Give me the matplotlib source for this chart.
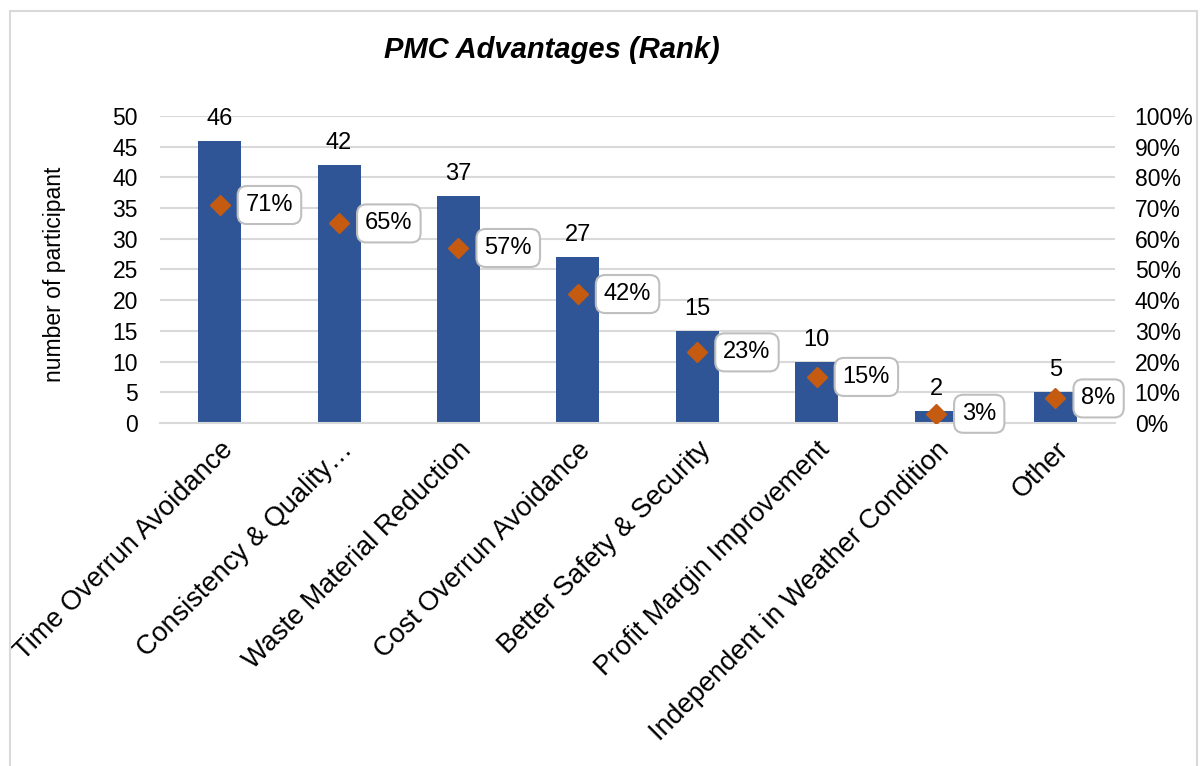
import matplotlib.pyplot as plt
from matplotlib.patches import Rectangle
from matplotlib.ticker import PercentFormatter

plt.rcParams["font.family"] = ["Liberation Sans", "DejaVu Sans"]

categories = [
    "Time Overrun Avoidance",
    "Consistency & Quality…",
    "Waste Material Reduction",
    "Cost Overrun Avoidance",
    "Better Safety & Security",
    "Profit Margin Improvement",
    "Independent in Weather Condition",
    "Other",
]
counts = [46, 42, 37, 27, 15, 10, 2, 5]
percents = [71, 65, 57, 42, 23, 15, 3, 8]

bar_color = "#2F5597"
marker_color = "#C55A11"
grid_color = "#D9D9D9"
fs = 16.5

fig = plt.figure(figsize=(12.03, 7.66), dpi=100)
ax = fig.add_axes([0.133, 0.4478, 0.794, 0.4008])
ax2 = ax.twinx()

x = list(range(len(categories)))
ax.bar(x, counts, width=0.36, color=bar_color, zorder=2)
for xi, c in zip(x, counts):
    ax.annotate(str(c), (xi, c), xytext=(0, 11), textcoords="offset pixels",
                ha="center", va="bottom", fontsize=fs + 0.5, color="#000000")

ax.set_xlim(-0.5, len(categories) - 0.5)
ax.set_ylim(0, 50)
ax.set_yticks(range(0, 51, 5))
ax.yaxis.grid(True, color=grid_color, linewidth=1.5, zorder=0)
ax.set_axisbelow(True)
for side in ["top", "right", "left"]:
    ax.spines[side].set_visible(False)
ax.spines["bottom"].set_color(grid_color)
ax.spines["bottom"].set_linewidth(1.5)
ax.tick_params(axis="both", length=0, labelsize=fs)
ax.tick_params(axis="y", pad=16)
ax.set_ylabel("number of participant", fontsize=fs, va="center")
ax.yaxis.set_label_coords(-0.11, 0.484)

ax.set_xticks(x)
ax.set_xticklabels(categories, rotation=45, ha="right", rotation_mode="anchor",
                   fontsize=19.5)
ax.tick_params(axis="x", pad=10)

# clip rotated labels to the chart frame
frame_clip = Rectangle((10 / 1203, 0), 1187 / 1203, 1, transform=fig.transFigure)
for lbl in ax.get_xticklabels():
    lbl.set_clip_path(frame_clip)

# share of participants on the secondary axis
ax2.plot(x, [p / 100 for p in percents], linestyle="none", marker="D",
         markersize=10, color=marker_color, zorder=3)
for xi, p in zip(x, percents):
    ax2.annotate(f"{p}%", (xi, p / 100), xytext=(26, 0), textcoords="offset pixels",
                 ha="left", va="center", fontsize=fs + 0.5,
                 bbox=dict(boxstyle="round,pad=0.34,rounding_size=0.4",
                           fc="white", ec="#BFBFBF", lw=1.5))
ax2.set_ylim(0, 1)
ax2.set_yticks([i / 10 for i in range(11)])
ax2.yaxis.set_major_formatter(PercentFormatter(1.0, decimals=0))
ax2.tick_params(axis="y", length=0, labelsize=fs, pad=14)
for side in ["top", "right", "left", "bottom"]:
    ax2.spines[side].set_visible(False)

fig.text(0.459, 0.935, "PMC Advantages (Rank)", ha="center", va="center",
         fontsize=21, fontweight="bold", fontstyle="italic")

fig.patches.append(Rectangle((10 / 1203, -0.01), 1187 / 1203, 1 - 11 / 766 + 0.01,
                             transform=fig.transFigure, fill=False,
                             ec="#D9D9D9", lw=1.5))

fig.savefig("out.png", dpi=100)
